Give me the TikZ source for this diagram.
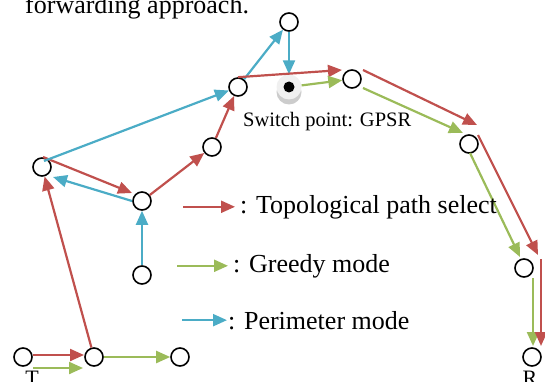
\documentclass[tikz,border=0pt]{standalone}
\usepackage{fontspec}
\setmainfont{Liberation Serif}
\usetikzlibrary{arrows.meta,calc}
\definecolor{tred}{RGB}{192,80,77}
\definecolor{tgreen}{RGB}{155,187,89}
\definecolor{tblue}{RGB}{75,172,198}

\begin{document}
\begin{tikzpicture}[x=1pt,y=-1pt,
    vtx/.style={circle,draw,line width=1.6pt,minimum size=18pt,inner sep=0pt,fill=white},
    link/.style={line width=2.2pt,-{Triangle[length=14pt,width=12pt]}},
    topo/.style={link,tred},
    greedy/.style={link,tgreen},
    perim/.style={link,tblue},
    lbl/.style={inner sep=0pt,font=\fontsize{26}{31}\selectfont}]
    \useasboundingbox (0,0) rectangle (545,382);

    \node[lbl,anchor=base west] (title) at (25,14) {forwarding approach.};

    % vertices
    \node[vtx] (t) at (23,357) {};
    \node[vtx] (a) at (94,357) {};
    \node[vtx] (b) at (180,357) {};
    \node[vtx] (c) at (42,167) {};
    \node[vtx] (d) at (142,201) {};
    \node[vtx] (e) at (142,275) {};
    \node[vtx] (f) at (212,147) {};
    \node[vtx] (g) at (238,87) {};
    \node[vtx] (h) at (289,22) {};
    \node[vtx] (i) at (352,79) {};
    \node[vtx] (j) at (469,144) {};
    \node[vtx] (k) at (524,268) {};
    \node[vtx] (r) at (532,357) {};

    \node[anchor=base,inner sep=0pt,font=\fontsize{22}{26}\selectfont] (tlab) at (32,385) {T};
    \node[anchor=base,inner sep=0pt,font=\fontsize{22}{26}\selectfont] (rlab) at (530,385) {R};

    % switch point
    \fill[gray!40] (289,92) circle (12.5pt);
    \node[circle,fill=gray!12,minimum size=25pt,inner sep=0pt] (sw) at (289,87) {};
    \fill (sw) circle (5.5pt);
    \node[anchor=base west,inner sep=0pt,font=\fontsize{20.5}{24}\selectfont] (swlab) at (243,127) {Switch point: GPSR};

    % paths
    \draw[topo] ($(t)+(10,-2)$) -- ($(a)+(-10,-2)$);
    \draw[greedy] ($(t)+(10,11)$) -- ($(a)+(-11,11)$);
    \draw[greedy] (a) -- (b);
    \draw[topo] (a) -- (c);
    \draw[topo] ($(c)+(1,-10)$) -- ($(d)+(-10,-8)$);
    \draw[perim] ($(d)+(-10,0)$) -- ($(c)+(11,10)$);
    \draw[perim] (e) -- (d);
    \draw[topo] (d) -- (f);
    \draw[topo] (f) -- (g);
    \draw[perim] ($(c)+(2,-6)$) -- (g);
    \draw[perim] (g) -- (h);
    \draw[perim] (h) -- (sw);
    \draw[topo] (g.north) -- ($(i)+(-10,-9)$);
    \draw[greedy] (sw) -- (i);
    \draw[topo] ($(i)+(11,-9)$) -- ($(j)+(8,-19)$);
    \draw[greedy] ($(i)+(11,9)$) -- ($(j)+(-6,-11)$);
    \draw[topo] ($(j)+(9,-9)$) -- ($(k)+(14,-13)$);
    \draw[greedy] ($(j)+(1,9)$) -- ($(k)+(-4,-11)$);
    \draw[greedy] ($(k)+(9,10)$) -- ($(r)+(1,-11)$);
    \draw[topo] ($(k)+(17,-9)$) -- ($(r)+(9,-11)$);

    % legend
    \node[lbl,anchor=base west] (ltopo) at (240,213) {: Topological path select};
    \node[lbl,anchor=base west] (lgreedy) at (233,272) {: Greedy mode};
    \node[lbl,anchor=base west] (lperim) at (228,329) {: Perimeter mode};
    \draw[topo] ($(ltopo.west)+(-57,0)$) -- ($(ltopo.west)+(-5,0)$);
    \draw[greedy] ($(lgreedy.west)+(-56,0)$) -- ($(lgreedy.west)+(-5,0)$);
    \draw[perim] ($(lperim.west)+(-46,0)$) -- ($(lperim.west)+(-1,0)$);
\end{tikzpicture}
\end{document}
